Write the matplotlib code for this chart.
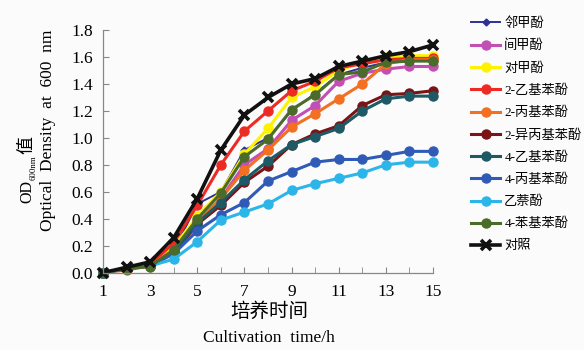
import numpy as np
import matplotlib
matplotlib.use('Agg')
import matplotlib.pyplot as plt
from matplotlib.ticker import FixedLocator, MultipleLocator, FormatStrFormatter

plt.rcParams['font.family'] = ['Liberation Serif', 'Noto Sans CJK SC']

# culture time (h)
hours = np.arange(1, 16)

# OD600 readings per treatment
o_cresol = [0.00, 0.03, 0.06, 0.16, 0.51, 0.60, 0.91, 1.00, 1.20, 1.33, 1.47, 1.52, 1.56, 1.58, 1.58]
m_cresol = [0.00, 0.03, 0.05, 0.15, 0.35, 0.55, 0.80, 0.92, 1.13, 1.24, 1.42, 1.48, 1.51, 1.53, 1.53]
p_cresol = [0.00, 0.03, 0.06, 0.19, 0.42, 0.60, 0.88, 1.07, 1.30, 1.38, 1.50, 1.56, 1.60, 1.61, 1.61]
ethyl2 = [0.00, 0.03, 0.06, 0.22, 0.50, 0.80, 1.05, 1.20, 1.35, 1.42, 1.52, 1.55, 1.58, 1.59, 1.59]
propyl2 = [0.00, 0.02, 0.05, 0.17, 0.38, 0.55, 0.76, 0.91, 1.08, 1.18, 1.29, 1.40, 1.55, 1.58, 1.58]
isopropyl2 = [0.00, 0.03, 0.05, 0.15, 0.36, 0.50, 0.67, 0.79, 0.95, 1.03, 1.09, 1.24, 1.32, 1.33, 1.35]
ethyl4 = [0.00, 0.03, 0.05, 0.15, 0.37, 0.52, 0.69, 0.83, 0.95, 1.01, 1.07, 1.20, 1.29, 1.31, 1.31]
propyl4 = [0.00, 0.03, 0.05, 0.14, 0.31, 0.43, 0.52, 0.68, 0.75, 0.82, 0.84, 0.84, 0.87, 0.90, 0.90]
naphthol = [0.00, 0.03, 0.05, 0.10, 0.23, 0.39, 0.45, 0.51, 0.61, 0.66, 0.70, 0.74, 0.80, 0.82, 0.82]
phenyl4 = [0.00, 0.03, 0.045, 0.17, 0.40, 0.59, 0.86, 0.99, 1.21, 1.32, 1.47, 1.49, 1.56, 1.57, 1.57]
control = [0.00, 0.04, 0.08, 0.26, 0.55, 0.91, 1.17, 1.30, 1.40, 1.44, 1.53, 1.57, 1.61, 1.64, 1.69]

labels = ['邻甲酚', '间甲酚', '对甲酚', '2-乙基苯酚', '2-丙基苯酚', '2-异丙基苯酚',
          '4-乙基苯酚', '4-丙基苯酚', '乙萘酚', '4-苯基苯酚', '对照']
series = [o_cresol, m_cresol, p_cresol, ethyl2, propyl2, isopropyl2,
          ethyl4, propyl4, naphthol, phenyl4, control]
colors = ['#2e3192', '#c24fb3', '#fff200', '#ee2a24', '#f36f21', '#7a1416',
          '#1d5a66', '#2f5bb7', '#2cb5e8', '#4b6b2b', '#111111']
xticks = [1, 3, 5, 7, 9, 11, 13, 15]

fig = plt.figure(figsize=(5.84, 3.5), dpi=100)
fig.patch.set_facecolor('#fbfbfb')
ax = fig.add_axes([0.1764, 0.221, 0.565, 0.693])
ax.set_facecolor('#fbfbfb')

for i in range(len(series)):
    if i == 0:
        ax.plot(hours, series[i], color=colors[i], lw=1.4, marker='D', ms=3.5,
                label=labels[i], clip_on=False)
    elif i == len(series) - 1:
        ax.plot(hours, series[i], color=colors[i], lw=2.6, marker='x', ms=6.5,
                mew=2.6, label=labels[i], clip_on=False)
    else:
        ax.plot(hours, series[i], color=colors[i], lw=2.2, marker='o', ms=6.5,
                label=labels[i], clip_on=False)

ax.set_xlim(1, 15)
ax.set_ylim(0, 1.8)
ax.xaxis.set_major_locator(FixedLocator(xticks))
ax.xaxis.set_minor_locator(MultipleLocator(1))
ax.yaxis.set_major_locator(MultipleLocator(0.2))
ax.yaxis.set_major_formatter(FormatStrFormatter('%.1f'))
ax.tick_params(axis='both', which='both', direction='in', length=4.5,
               color='#888888', labelsize=12.5, pad=7)
ax.tick_params(axis='x', which='major', pad=8)
for s in ['top', 'right']:
    ax.spines[s].set_visible(False)
for s in ['left', 'bottom']:
    ax.spines[s].set_color('#888888')
    ax.spines[s].set_linewidth(0.9)

# axis titles
fig.text(269 / 584, 1 - 312 / 350, '培养时间', ha='center', va='center', fontsize=14)
fig.text(269 / 584, 1 - 338 / 350, 'Cultivation  time/h', ha='center', va='center', fontsize=12.5)
fig.text(27 / 584, 1 - 203 / 350, 'OD', rotation=90, ha='center', va='bottom', fontsize=11.5)
fig.text(34 / 584, 1 - 180 / 350, '600nm', rotation=90, ha='center', va='bottom', fontsize=6.3)
fig.text(27 / 584, 1 - 154 / 350, '值', rotation=90, ha='center', va='bottom', fontsize=13)
fig.text(48 / 584, 1 - 130 / 350, 'Optical  Density  at  600  nm', rotation=90,
         ha='center', va='center', fontsize=12.5)

fig.legend(loc='upper left', bbox_to_anchor=(466 / 584, 1 - 12 / 350), frameon=False,
           fontsize=9.5, handlelength=2.2, handletextpad=0.3, labelspacing=0.74,
           borderaxespad=0)

fig.savefig('out.png', dpi=100, facecolor=fig.get_facecolor())
